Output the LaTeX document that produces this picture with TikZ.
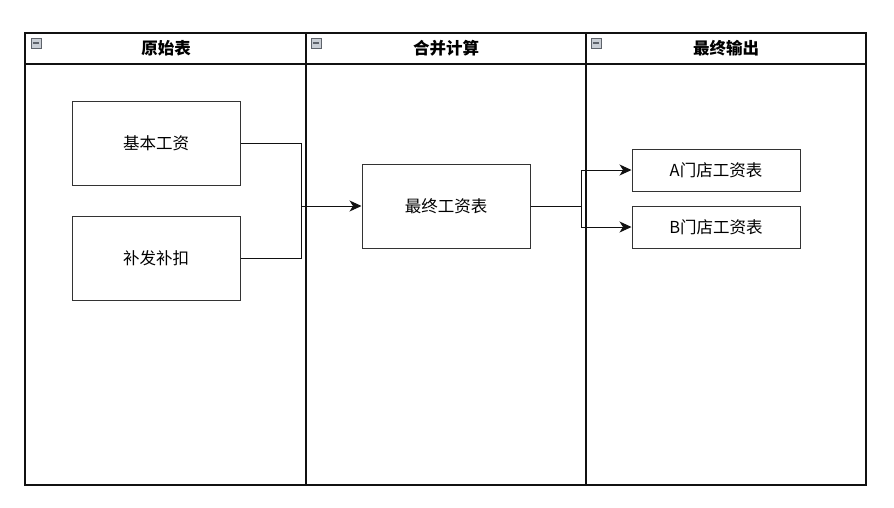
\documentclass[tikz,border=0pt]{standalone}
\usepackage{fontspec}
\newfontfamily\cjk{Noto Sans CJK SC}
\usetikzlibrary{arrows.meta,positioning}
\definecolor{cLine}{HTML}{111111}
\definecolor{cBox}{HTML}{333333}
\definecolor{cIcon}{HTML}{5E636B}
\definecolor{cIconBg}{HTML}{C9CED5}
\tikzset{
  lane/.style={draw=cLine, line width=1.2pt},
  head/.style={font=\cjk\bfseries\fontsize{16.5}{19}\selectfont, anchor=center},
  icon/.style={draw=cIcon, fill=cIconBg, line width=0.7pt},
  box/.style={draw=cBox, line width=1pt, fill=white, align=center,
    font=\cjk\fontsize{16.5}{19}\selectfont, minimum width=168pt, inner sep=0pt},
  tall/.style={box, minimum height=84pt},
  flat/.style={box, minimum height=42pt},
  flow/.style={-{Stealth[length=12pt, width=11pt, inset=3.5pt]}, draw=cLine, line width=1pt},
  link/.style={draw=cLine, line width=1pt},
}

\begin{document}
\begin{tikzpicture}[x=1pt, y=-1pt]
    \useasboundingbox (0,0) rectangle (894,507);
    % --- pool and lanes ---
    \draw[lane] (25,33) rectangle (866,485);
    \draw[lane] (25,64) -- (866,64);
    \draw[lane] (306,33) -- (306,485);
    \draw[lane] (586,33) -- (586,485);
    % lane headers
    \node[head] (h1) at (166,48) {原始表};
    \node[head] (h2) at (446,48) {合并计算};
    \node[head] (h3) at (726,48) {最终输出};
    \foreach \x in {31,311,591} {
      \draw[icon] (\x,38) rectangle ++(10,10);
      \draw[cIcon, line width=1.4pt] (\x+2,43) -- (\x+8,43);
    }
    % --- boxes ---
    \node[tall] (base) at (156,143) {基本工资};
    \node[tall] (adj) at (156,258) {补发补扣};
    \node[tall] (total) at (446,206) {最终工资表};
    \node[flat] (shopA) at (716,170) {A门店工资表};
    \node[flat] (shopB) at (716,227) {B门店工资表};
    % --- connectors ---
    \coordinate (j1) at (301,206);
    \coordinate (j2) at (581,206);
    \draw[link] (base.east) -| (j1);
    \draw[flow] (adj.east) -| (j1) -- (total.west);
    \draw[flow] (total.east) -- (j2) |- (shopA.west);
    \draw[flow] (total.east) -- (j2) |- (shopB.west);
\end{tikzpicture}
\end{document}
